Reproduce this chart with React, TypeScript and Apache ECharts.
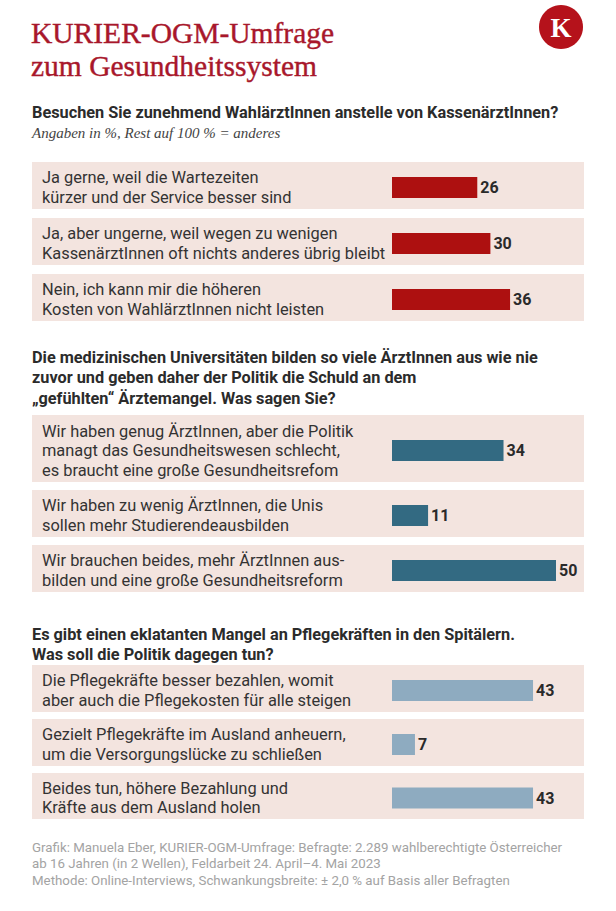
import React, { useEffect, useRef } from "react";
import * as echarts from "echarts";

const titleLines = ["KURIER-OGM-Umfrage", "zum Gesundheitssystem"];

const q1Question = "Besuchen Sie zunehmend WahlärztInnen anstelle von KassenärztInnen?";
const q1Note = "Angaben in %, Rest auf 100 % = anderes";
const q1Labels = [
  "Ja gerne, weil die Wartezeiten\nkürzer und der Service besser sind",
  "Ja, aber ungerne, weil wegen zu wenigen\nKassenärztInnen oft nichts anderes übrig bleibt",
  "Nein, ich kann mir die höheren\nKosten von WahlärztInnen nicht leisten",
];
const q1Values = [26, 30, 36];

const q2Question = [
  "Die medizinischen Universitäten bilden so viele ÄrztInnen aus wie nie",
  "zuvor und geben daher der Politik die Schuld an dem",
  "„gefühlten“ Ärztemangel. Was sagen Sie?",
];
const q2Labels = [
  "Wir haben genug ÄrztInnen, aber die Politik\nmanagt das Gesundheitswesen schlecht,\nes braucht eine große Gesundheitsrefom",
  "Wir haben zu wenig ÄrztInnen, die Unis\nsollen mehr Studierendeausbilden",
  "Wir brauchen beides, mehr ÄrztInnen aus-\nbilden und eine große Gesundheitsreform",
];
const q2Values = [34, 11, 50];

const q3Question = [
  "Es gibt einen eklatanten Mangel an Pflegekräften in den Spitälern.",
  "Was soll die Politik dagegen tun?",
];
const q3Labels = [
  "Die Pflegekräfte besser bezahlen, womit\naber auch die Pflegekosten für alle steigen",
  "Gezielt Pflegekräfte im Ausland anheuern,\num die Versorgungslücke zu schließen",
  "Beides tun, höhere Bezahlung und\nKräfte aus dem Ausland holen",
];
const q3Values = [43, 7, 43];

const footerLines = [
  "Grafik: Manuela Eber, KURIER-OGM-Umfrage: Befragte: 2.289 wahlberechtigte Österreicher",
  "ab 16 Jahren (in 2 Wellen), Feldarbeit 24. April–4. Mai 2023",
  "Methode: Online-Interviews, Schwankungsbreite: ± 2,0 % auf Basis aller Befragten",
];

// layout
const rowTops = [162, 218, 274, 415, 490, 545, 665, 719, 773];
const rowHeights = [47, 47, 47, 67, 47, 47, 47, 47, 46];
const barColors = ["#ad1010", "#336a82", "#8eabc0"];

export default function App() {
  const ref = useRef<HTMLDivElement>(null);
  useEffect(() => {
    document.body.style.margin = "0";
    const chart = echarts.init(ref.current!, null, { renderer: "svg" });
    const sections = [
      { labels: q1Labels, values: q1Values, color: barColors[0] },
      { labels: q2Labels, values: q2Values, color: barColors[1] },
      { labels: q3Labels, values: q3Values, color: barColors[2] },
    ];
    const grids: any[] = [];
    const xAxes: any[] = [];
    const yAxes: any[] = [];
    const series: any[] = [];
    const rects: any[] = [];
    let idx = 0;
    sections.forEach((sec) => {
      sec.labels.forEach((lab, j) => {
        const top = rowTops[idx];
        const h = rowHeights[idx];
        rects.push({
          type: "rect",
          z: -10,
          silent: true,
          shape: { x: 32, y: top, width: 552, height: h },
          style: { fill: "#f3e4df" },
        });
        grids.push({ left: 392, width: 164, top: top + 2, height: h });
        xAxes.push({ type: "value", gridIndex: idx, min: 0, max: 50, show: false });
        yAxes.push({
          type: "category",
          gridIndex: idx,
          data: [lab],
          axisLine: { show: false },
          axisTick: { show: false },
          axisLabel: {
            align: "left",
            margin: 350,
            fontSize: 16.4,
            lineHeight: 19.5,
            color: "#333333",
            fontFamily: "Roboto",
          },
        });
        series.push({
          type: "bar",
          xAxisIndex: idx,
          yAxisIndex: idx,
          data: [sec.values[j]],
          barWidth: 21,
          itemStyle: { color: sec.color },
          label: {
            show: true,
            position: "right",
            distance: 3,
            fontSize: 16,
            fontWeight: "bold",
            color: "#2a2a2a",
            fontFamily: "Roboto",
          },
        });
        idx++;
      });
    });

    const texts: any[] = [];
    titleLines.forEach((t, i) => {
      texts.push({
        type: "text",
        x: 31,
        y: 33 + i * 32.5,
        style: {
          text: t,
          fill: "#a8172b",
          stroke: "#a8172b",
          lineWidth: 0.4,
          font: "29.5px 'Liberation Serif'",
          textVerticalAlign: "middle",
        },
      });
    });
    const qStyle = (t: string, y: number) => ({
      type: "text",
      x: 32,
      y,
      style: {
        text: t,
        fill: "#2b2b2b",
        font: "bold 16.3px Roboto",
        textVerticalAlign: "middle",
      },
    });
    texts.push(qStyle(q1Question, 112));
    texts.push({
      type: "text",
      x: 32,
      y: 133,
      style: {
        text: q1Note,
        fill: "#444",
        font: "italic 15px 'Liberation Serif'",
        textVerticalAlign: "middle",
      },
    });
    q2Question.forEach((t, i) => texts.push(qStyle(t, 357 + i * 20.5)));
    q3Question.forEach((t, i) => texts.push(qStyle(t, 634 + i * 20)));
    footerLines.forEach((t, i) => {
      texts.push({
        type: "text",
        x: 32,
        y: 847 + i * 16.5,
        style: {
          text: t,
          fill: "#a3a3a3",
          font: "13.3px Roboto",
          textVerticalAlign: "middle",
        },
      });
    });
    texts.push({
      type: "circle",
      shape: { cx: 561, cy: 27, r: 22 },
      style: { fill: "#b5121b" },
    });
    texts.push({
      type: "text",
      x: 561,
      y: 28,
      style: {
        text: "K",
        fill: "#ffffff",
        font: "bold 27px 'Liberation Serif'",
        textAlign: "center",
        textVerticalAlign: "middle",
      },
    });

    chart.setOption({
      animation: false,
      backgroundColor: "#ffffff",
      grid: grids,
      xAxis: xAxes,
      yAxis: yAxes,
      series,
      graphic: { elements: [...rects, ...texts] },
    });
    return () => chart.dispose();
  }, []);
  return (
    <div
      ref={ref}
      style={{ position: "absolute", left: 0, top: 0, width: 616, height: 911 }}
    />
  );
}
